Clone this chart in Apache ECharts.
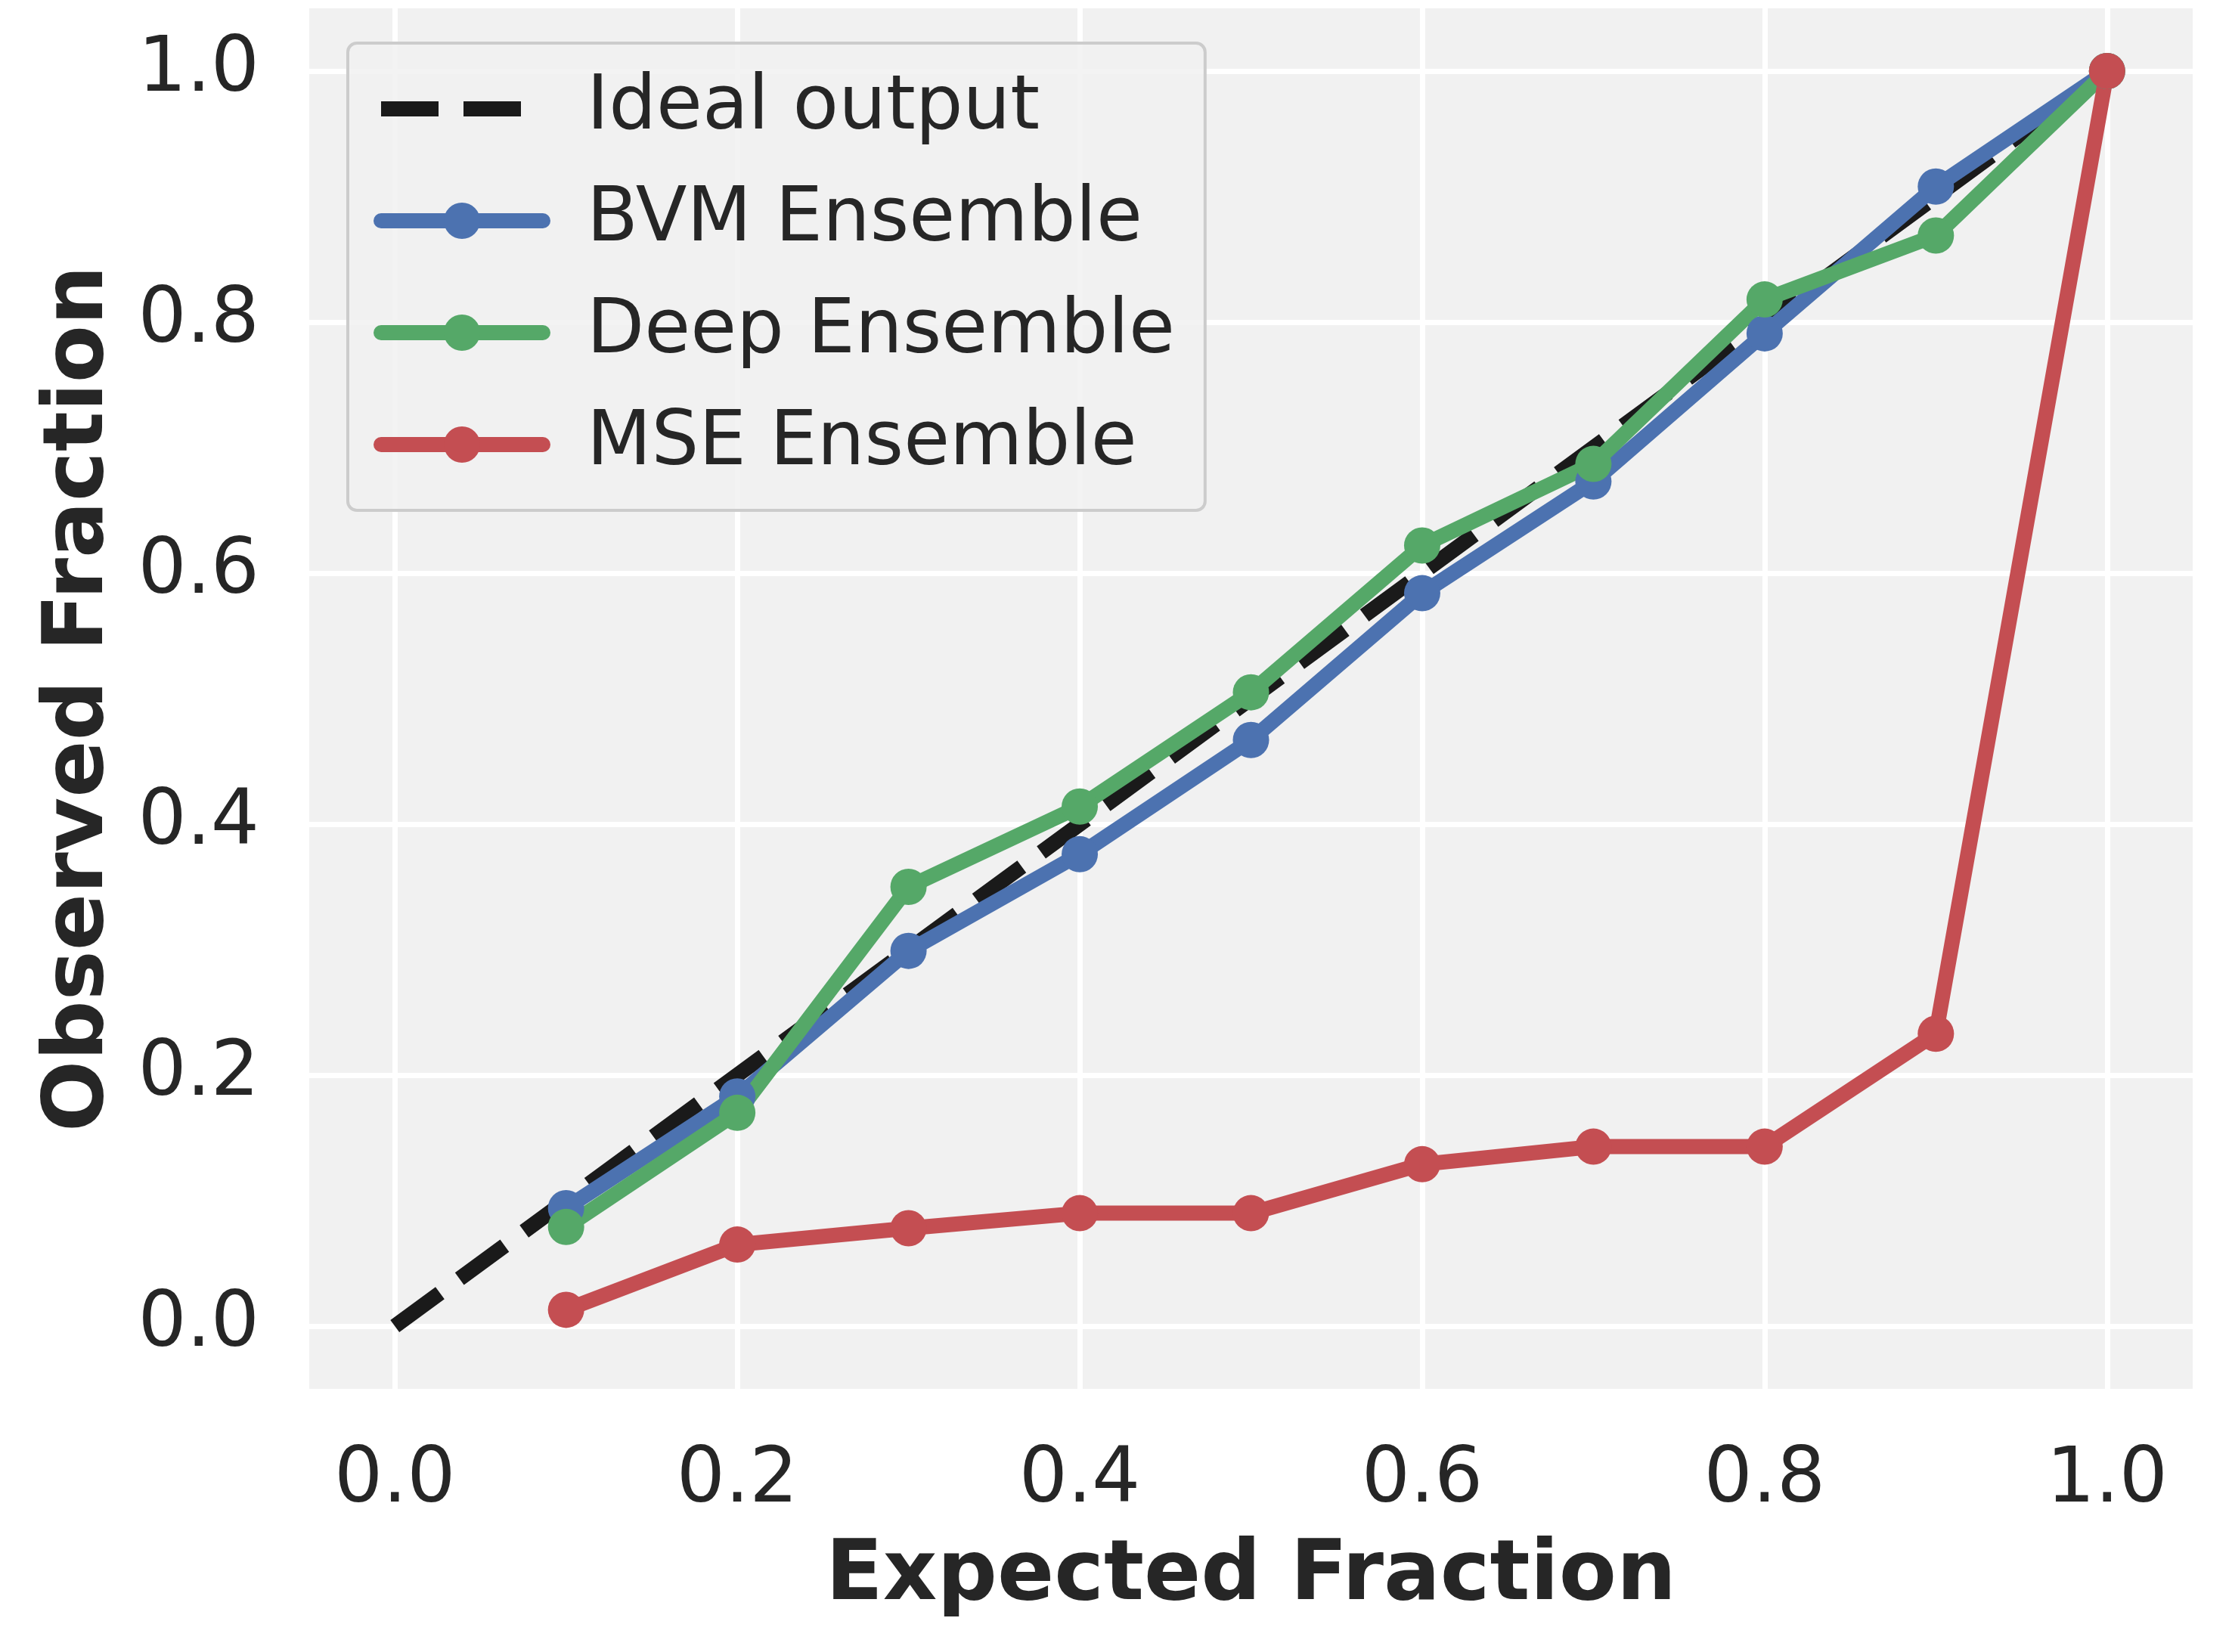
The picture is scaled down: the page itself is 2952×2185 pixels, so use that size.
<!DOCTYPE html>
<html>
<head>
<meta charset="utf-8">
<script src="https://cdn.jsdelivr.net/npm/echarts@6/dist/echarts.min.js"></script>
<style>
html,body{margin:0;padding:0;background:#ffffff;}
#chart{width:2952px;height:2185px;}
</style>
</head>
<body>
<div id="chart"></div>
<script>
const expected = [0.1, 0.2, 0.3, 0.4, 0.5, 0.6, 0.7, 0.8, 0.9, 1.0];
const idealX = [0.0, 1.0];
const idealY = [0.0, 1.0];
const bvm = [0.094, 0.183, 0.299, 0.376, 0.467, 0.584, 0.673, 0.791, 0.908, 1.0];
const deep = [0.079, 0.170, 0.350, 0.414, 0.505, 0.622, 0.687, 0.818, 0.869, 1.0];
const mse = [0.013, 0.065, 0.078, 0.090, 0.090, 0.129, 0.143, 0.143, 0.233, 1.0];
const tickValues = [0.0, 0.2, 0.4, 0.6, 0.8, 1.0];
const seriesNames = ['Ideal output', 'BVM Ensemble', 'Deep Ensemble', 'MSE Ensemble'];
const colors = ['#1a1a1a', '#4c72b0', '#55a868', '#c44e52'];

const FONT = 'DejaVu Sans';
const TXT = '#262626';
const pair = (xs, ys) => xs.map((x, i) => [x, ys[i]]);

const chart = echarts.init(document.getElementById('chart'), null, {renderer: 'canvas'});

function lineSeries(name, ys, color) {
  return {
    name: name,
    type: 'line',
    data: pair(expected, ys),
    symbol: 'circle',
    symbolSize: 48,
    showSymbol: true,
    lineStyle: {color: color, width: 20, cap: 'round', join: 'round'},
    itemStyle: {color: color, borderWidth: 0},
    emphasis: {disabled: true},
    z: 3
  };
}

const legendData = seriesNames.map((n, i) => i === 0
  ? {name: n, itemStyle: {opacity: 0}, lineStyle: {color: colors[0], width: 20, type: [76, 33], cap: 'butt'}}
  : {name: n, lineStyle: {color: colors[i], width: 20, cap: 'round'}});

const option = {
  backgroundColor: '#ffffff',
  animation: false,
  grid: {left: 409, right: 52, top: 11, bottom: 348, containLabel: false, show: true, backgroundColor: '#f1f1f1', borderWidth: 0},
  xAxis: {
    type: 'value', min: -0.05, max: 1.05,
    name: 'Expected Fraction', nameLocation: 'middle', nameGap: 194,
    nameTextStyle: {fontFamily: FONT, fontWeight: 'bold', fontSize: 111, color: TXT},
    axisLine: {show: false},
    axisTick: {show: false, customValues: tickValues},
    axisLabel: {customValues: tickValues, fontFamily: FONT, fontSize: 101, color: TXT, margin: 72,
      formatter: v => v.toFixed(1)},
    splitLine: {show: true, lineStyle: {color: '#ffffff', width: 7}}
  },
  yAxis: {
    type: 'value', min: -0.05, max: 1.05,
    name: 'Observed Fraction', nameLocation: 'middle', nameGap: 247,
    nameTextStyle: {fontFamily: FONT, fontWeight: 'bold', fontSize: 111, color: TXT},
    axisLine: {show: false},
    axisTick: {show: false, customValues: tickValues},
    axisLabel: {customValues: tickValues, fontFamily: FONT, fontSize: 101, color: TXT, margin: 66,
      formatter: v => v.toFixed(1)},
    splitLine: {show: true, lineStyle: {color: '#ffffff', width: 7}}
  },
  legend: {
    show: true, orient: 'vertical', left: 460, top: 57,
    data: legendData,
    backgroundColor: 'rgba(241,241,241,0.85)', borderColor: '#cccccc', borderWidth: 4, borderRadius: 12,
    padding: [37, 40, 37, 34],
    itemWidth: 214, itemHeight: 60, itemGap: 48,
    textStyle: {fontFamily: FONT, fontSize: 99, color: TXT, lineHeight: 100, padding: [0, 0, 0, 53]}
  },
  series: [
    {
      name: 'Ideal output', type: 'line', data: pair(idealX, idealY),
      symbol: 'none', showSymbol: false,
      lineStyle: {color: colors[0], width: 20, type: [74, 32]},
      itemStyle: {color: colors[0]},
      emphasis: {disabled: true}, z: 2
    },
    lineSeries('BVM Ensemble', bvm, colors[1]),
    lineSeries('Deep Ensemble', deep, colors[2]),
    lineSeries('MSE Ensemble', mse, colors[3])
  ]
};
chart.setOption(option);
</script>
</body>
</html>
